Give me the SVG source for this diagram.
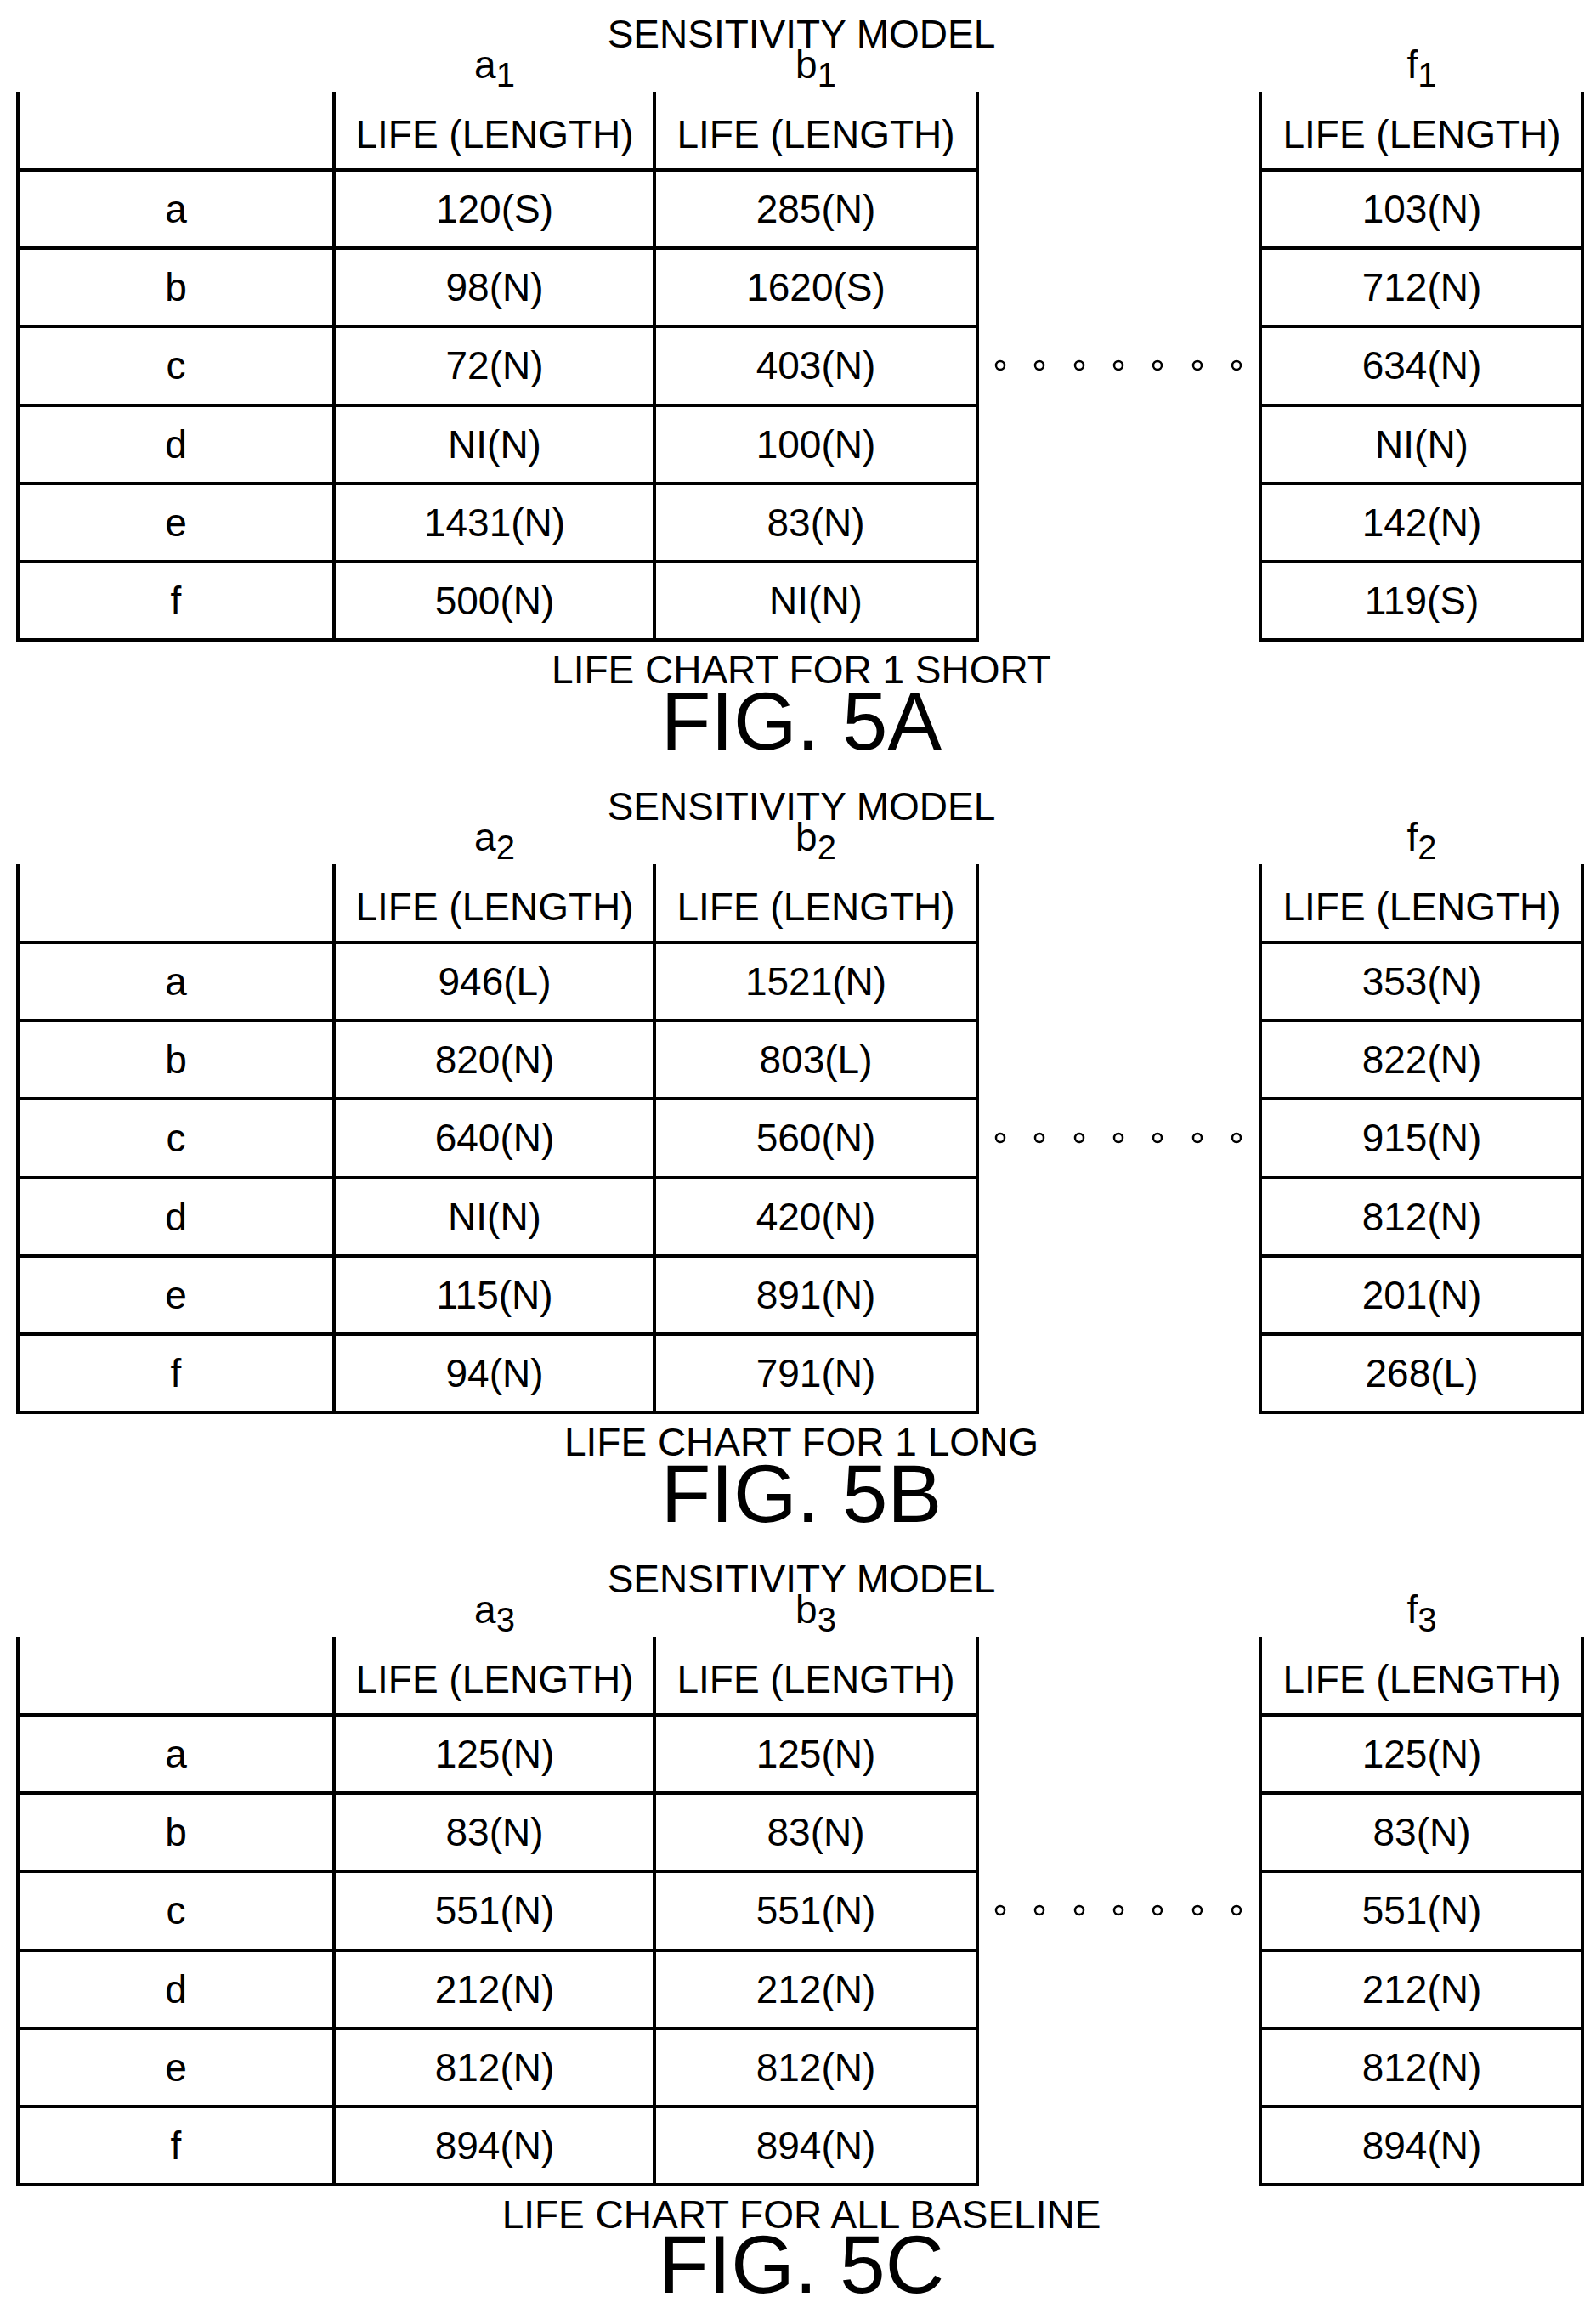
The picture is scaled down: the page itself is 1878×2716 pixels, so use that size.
<svg xmlns="http://www.w3.org/2000/svg" width="1878" height="2716" viewBox="0 0 1878 2716">
<style>
text{font-family:"Liberation Sans",Arial,sans-serif;font-size:46px;fill:#000;text-anchor:middle}
.fig{font-size:96px}
.sub{font-size:40px}
line{stroke:#000;stroke-width:4}
circle{fill:none;stroke:#000;stroke-width:2.5}
</style>
<defs>
<g id="grid">
<line x1="21" y1="108" x2="21" y2="755"/><line x1="393" y1="108" x2="393" y2="755"/><line x1="770" y1="108" x2="770" y2="755"/><line x1="1150" y1="108" x2="1150" y2="755"/>
<line x1="1483" y1="108" x2="1483" y2="755"/><line x1="1862" y1="108" x2="1862" y2="755"/>
<line x1="21" y1="200" x2="1150" y2="200"/><line x1="21" y1="292" x2="1150" y2="292"/><line x1="21" y1="384" x2="1150" y2="384"/><line x1="21" y1="477" x2="1150" y2="477"/><line x1="21" y1="569" x2="1150" y2="569"/><line x1="21" y1="661" x2="1150" y2="661"/><line x1="21" y1="753" x2="1150" y2="753"/>
<line x1="1483" y1="200" x2="1862" y2="200"/><line x1="1483" y1="292" x2="1862" y2="292"/><line x1="1483" y1="384" x2="1862" y2="384"/><line x1="1483" y1="477" x2="1862" y2="477"/><line x1="1483" y1="569" x2="1862" y2="569"/><line x1="1483" y1="661" x2="1862" y2="661"/><line x1="1483" y1="753" x2="1862" y2="753"/>
<circle cx="1177" cy="430" r="5"/><circle cx="1223" cy="430" r="5"/><circle cx="1270" cy="430" r="5"/><circle cx="1316" cy="430" r="5"/><circle cx="1362" cy="430" r="5"/><circle cx="1409" cy="430" r="5"/><circle cx="1455" cy="430" r="5"/>
<text x="943" y="56">SENSITIVITY MODEL</text>
<text x="582" y="174">LIFE (LENGTH)</text><text x="960" y="174">LIFE (LENGTH)</text><text x="1673" y="174">LIFE (LENGTH)</text>
<text x="207" y="262">a</text><text x="207" y="354">b</text><text x="207" y="446">c</text><text x="207" y="539">d</text><text x="207" y="631">e</text><text x="207" y="723">f</text>
</g>
</defs>
<g id="fig5a">
<use href="#grid"/>
<text x="582" y="92">a<tspan class="sub" dy="10">1</tspan></text>
<text x="960" y="92">b<tspan class="sub" dy="10">1</tspan></text>
<text x="1673" y="92">f<tspan class="sub" dy="10">1</tspan></text>
<text x="582" y="262">120(S)</text><text x="960" y="262">285(N)</text><text x="1673" y="262">103(N)</text>
<text x="582" y="354">98(N)</text><text x="960" y="354">1620(S)</text><text x="1673" y="354">712(N)</text>
<text x="582" y="446">72(N)</text><text x="960" y="446">403(N)</text><text x="1673" y="446">634(N)</text>
<text x="582" y="539">NI(N)</text><text x="960" y="539">100(N)</text><text x="1673" y="539">NI(N)</text>
<text x="582" y="631">1431(N)</text><text x="960" y="631">83(N)</text><text x="1673" y="631">142(N)</text>
<text x="582" y="723">500(N)</text><text x="960" y="723">NI(N)</text><text x="1673" y="723">119(S)</text>
<text x="943" y="804">LIFE CHART FOR 1 SHORT</text>
<text class="fig" x="943" y="882">FIG. 5A</text>
</g>
<g id="fig5b" transform="translate(0,909)">
<use href="#grid"/>
<text x="582" y="92">a<tspan class="sub" dy="10">2</tspan></text>
<text x="960" y="92">b<tspan class="sub" dy="10">2</tspan></text>
<text x="1673" y="92">f<tspan class="sub" dy="10">2</tspan></text>
<text x="582" y="262">946(L)</text><text x="960" y="262">1521(N)</text><text x="1673" y="262">353(N)</text>
<text x="582" y="354">820(N)</text><text x="960" y="354">803(L)</text><text x="1673" y="354">822(N)</text>
<text x="582" y="446">640(N)</text><text x="960" y="446">560(N)</text><text x="1673" y="446">915(N)</text>
<text x="582" y="539">NI(N)</text><text x="960" y="539">420(N)</text><text x="1673" y="539">812(N)</text>
<text x="582" y="631">115(N)</text><text x="960" y="631">891(N)</text><text x="1673" y="631">201(N)</text>
<text x="582" y="723">94(N)</text><text x="960" y="723">791(N)</text><text x="1673" y="723">268(L)</text>
<text x="943" y="804">LIFE CHART FOR 1 LONG</text>
<text class="fig" x="943" y="882">FIG. 5B</text>
</g>
<g id="fig5c" transform="translate(0,1818)">
<use href="#grid"/>
<text x="582" y="92">a<tspan class="sub" dy="10">3</tspan></text>
<text x="960" y="92">b<tspan class="sub" dy="10">3</tspan></text>
<text x="1673" y="92">f<tspan class="sub" dy="10">3</tspan></text>
<text x="582" y="262">125(N)</text><text x="960" y="262">125(N)</text><text x="1673" y="262">125(N)</text>
<text x="582" y="354">83(N)</text><text x="960" y="354">83(N)</text><text x="1673" y="354">83(N)</text>
<text x="582" y="446">551(N)</text><text x="960" y="446">551(N)</text><text x="1673" y="446">551(N)</text>
<text x="582" y="539">212(N)</text><text x="960" y="539">212(N)</text><text x="1673" y="539">212(N)</text>
<text x="582" y="631">812(N)</text><text x="960" y="631">812(N)</text><text x="1673" y="631">812(N)</text>
<text x="582" y="723">894(N)</text><text x="960" y="723">894(N)</text><text x="1673" y="723">894(N)</text>
<text x="943" y="804">LIFE CHART FOR ALL BASELINE</text>
<text class="fig" x="943" y="880">FIG. 5C</text>
</g>
</svg>
